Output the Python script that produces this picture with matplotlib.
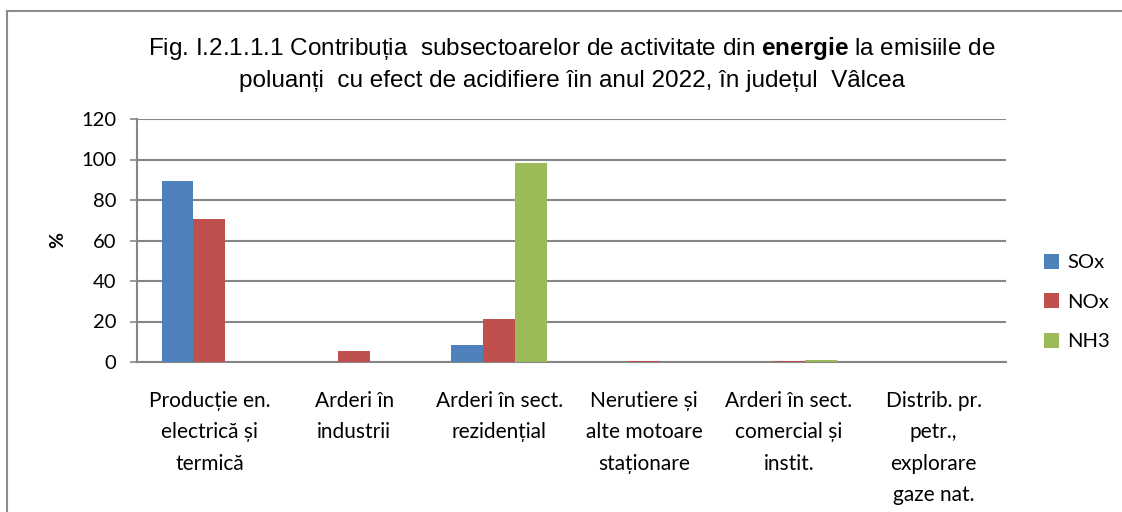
import numpy as np
import matplotlib
matplotlib.use("Agg")
import matplotlib.pyplot as plt
from matplotlib.lines import Line2D

categories = [
    "Producție en.\nelectrică și\ntermică",
    "Arderi în\nindustrii",
    "Arderi în sect.\nrezidențial",
    "Nerutiere și\nalte motoare\nstaționare",
    "Arderi în sect.\ncomercial și\ninstit.",
    "Distrib. pr.\npetr.,\nexplorare\ngaze nat.",
]
series_names = ["SOx", "NOx", "NH3"]
sox = [89.3, 0.2, 8.4, 0.1, 0.1, 0.0]
nox = [70.6, 5.6, 21.4, 0.3, 0.5, 0.1]
nh3 = [0.0, 0.2, 98.5, 0.0, 1.2, 0.0]
colors = ["#4F81BD", "#C0504D", "#9BBB59"]
yticks = [0, 20, 40, 60, 80, 100, 120]

title_fonts = ["Liberation Sans", "DejaVu Sans"]
body_fonts = ["Lato", "DejaVu Sans"]
plt.rcParams["font.family"] = body_fonts
plt.rcParams["mathtext.fontset"] = "custom"
plt.rcParams["mathtext.rm"] = "Liberation Sans"
plt.rcParams["mathtext.bf"] = "Liberation Sans:bold"

fig = plt.figure(figsize=(11.22, 5.12), dpi=100)
ax = fig.add_axes([137 / 1122, 1 - 362 / 512, (1006 - 137) / 1122, (362 - 119) / 512])

x = np.arange(len(categories))
w = 0.22
for i, (vals, name) in enumerate(zip([sox, nox, nh3], series_names)):
    ax.bar(x + (i - 1) * w, vals, width=w, color=colors[i], label=name, zorder=3)

ax.set_xlim(-0.5, len(categories) - 0.5)
ax.set_ylim(0, 120)
ax.set_yticks(yticks)
ax.set_xticks(x)
ax.set_xticklabels(categories, fontsize=15, linespacing=1.7)
ax.tick_params(axis="x", length=0, pad=21)
ax.tick_params(axis="y", labelsize=14.5, length=5, width=1.2, color="#868686", pad=10)
ax.grid(axis="y", color="#868686", linewidth=1.5, zorder=0)
for s in ["top", "right"]:
    ax.spines[s].set_visible(False)
for s in ["left", "bottom"]:
    ax.spines[s].set_color("#868686")
    ax.spines[s].set_linewidth(1.5)
ax.set_ylabel("%", fontsize=14, fontweight="bold", labelpad=11)

fig.text(572 / 1122, 1 - 48 / 512,
         "Fig. I.2.1.1.1 Contribuția  subsectoarelor de activitate din $\\bf{energie}$ la emisiile de",
         ha="center", va="center", fontsize=17.5, family=title_fonts)
fig.text(572 / 1122, 1 - 81 / 512,
         "poluanți  cu efect de acidifiere îin anul 2022, în județul  Vâlcea",
         ha="center", va="center", fontsize=17.5, family=title_fonts)

fig.legend(loc="center left", bbox_to_anchor=(1044 / 1122, 1 - 302 / 512),
           frameon=False, fontsize=14.5, handlelength=0.75, handleheight=0.75,
           handletextpad=0.4, labelspacing=1.1, borderaxespad=0, borderpad=0)

fig.add_artist(Line2D([7 / 1122, 7 / 1122], [0, 1 - 11 / 512], transform=fig.transFigure,
                      color="#8c8c8c", linewidth=1.5))
fig.add_artist(Line2D([7 / 1122, 1], [1 - 11 / 512, 1 - 11 / 512], transform=fig.transFigure,
                      color="#8c8c8c", linewidth=1.5))

fig.savefig("out.png", dpi=100)
